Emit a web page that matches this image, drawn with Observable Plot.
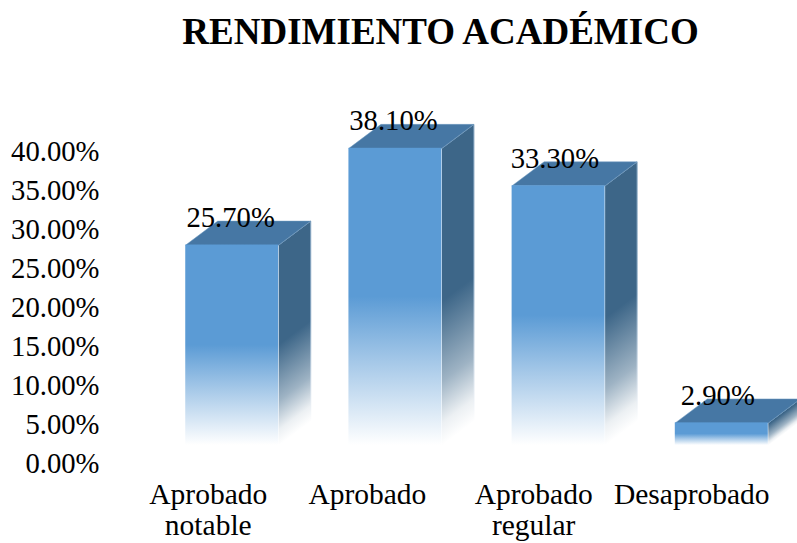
<!DOCTYPE html>
<html>
<head>
<meta charset="utf-8">
<script src="https://cdn.jsdelivr.net/npm/d3@7"></script>
<script src="https://cdn.jsdelivr.net/npm/@observablehq/plot@0.6"></script>
<style>
html,body{margin:0;padding:0;background:#fff;overflow:hidden}
#title{height:65px;box-sizing:border-box;padding-top:10px;text-align:center;font:bold 37px "Liberation Serif",serif;color:#000;white-space:nowrap;padding-left:84px}
svg{display:block}
</style>
</head>
<body>
<div id="title">RENDIMIENTO ACADÉMICO</div>
<script>
const categories = ["Aprobado notable", "Aprobado", "Aprobado regular", "Desaprobado"];
const categoryLabels = ["Aprobado\nnotable", "Aprobado", "Aprobado\nregular", "Desaprobado"];
const values = [25.7, 38.1, 33.3, 2.9];
const yTicks = [0, 5, 10, 15, 20, 25, 30, 35, 40];

// bar geometry, in scale units
const barWidth = 0.57, depthX = 0.196, depthY = 3.07;
const labelNudge = [-0.147, -0.172, -0.153, -0.184];
const valueNudge = [-0.01, -0.012, -0.023, -0.025];

const rows = values.map((v, i) => ({i, v, l: i - barWidth / 2, r: i + barWidth / 2}));
const sideFaces = rows.flatMap(d => [
  {i: d.i, x: d.r, y: 0},
  {i: d.i, x: d.r + depthX, y: depthY},
  {i: d.i, x: d.r + depthX, y: d.v + depthY},
  {i: d.i, x: d.r, y: d.v}
]);
const topFaces = rows.flatMap(d => [
  {i: d.i, x: d.l, y: d.v},
  {i: d.i, x: d.l + depthX, y: d.v + depthY},
  {i: d.i, x: d.r + depthX, y: d.v + depthY},
  {i: d.i, x: d.r, y: d.v}
]);

const ns = "http://www.w3.org/2000/svg";
// stops: [offset, share of white mixed into the colour]
function gradient(id, color, stops, x2 = 0, y2 = 1) {
  const g = document.createElementNS(ns, "linearGradient");
  g.setAttribute("id", id);
  g.setAttribute("x1", 0); g.setAttribute("y1", 0);
  g.setAttribute("x2", x2); g.setAttribute("y2", y2);
  const mix = d3.interpolateRgb(color, "#ffffff");
  stops.forEach(([o, w]) => {
    const s = document.createElementNS(ns, "stop");
    s.setAttribute("offset", o);
    s.setAttribute("stop-color", mix(w));
    g.appendChild(s);
  });
  return g;
}
const frontStops = [[0, 0], [0.5, 0], [0.72, 0.45], [1, 1]];
const sideStops = [[0, 0], [0.55, 0], [0.8, 0.5], [0.93, 0.9], [1, 1]];
const edgeStops = [[0, 0], [0.55, 0], [0.85, 0.6], [1, 1]];
const defs = () => {
  const d = document.createElementNS(ns, "defs");
  d.appendChild(gradient("frontFill", "#5b9bd5", frontStops));
  rows.forEach(r => {
    // the side face's fade follows its skew: bounding-box slope of the lower edge
    const s = depthY / (r.v + depthY);
    const k = 1 / (1 + s * s);
    d.appendChild(gradient(`sideFill${r.i}`, "#3d6688", sideStops, s * k, k));
    d.appendChild(gradient(`sideEdge${r.i}`, "#86a6c2", edgeStops, s * k, k));
  });
  return d;
};

const font = "Liberation Serif";
const chart = Plot.plot({
  width: 797,
  height: 478,
  marginLeft: 0, marginRight: 0, marginTop: 0, marginBottom: 0,
  x: {domain: [0, 3], range: [231.75, 721.3], axis: null},
  y: {domain: [0, 40], range: [380, 68], axis: null},
  style: {fontFamily: font, background: "#fff", color: "#000", overflow: "visible"},
  marks: [
    defs,
    rows.map(r => Plot.line(sideFaces.filter(d => d.i === r.i), {
      x: "x", y: "y", fill: `url(#sideFill${r.i})`, stroke: `url(#sideEdge${r.i})`, strokeWidth: 1
    })),
    Plot.line(topFaces, {x: "x", y: "y", z: "i", fill: "#4677a4", stroke: "#6f9ac0", strokeWidth: 0.5}),
    Plot.rectY(rows, {x1: "l", x2: "r", y1: 0, y2: "v", fill: "url(#frontFill)", inset: 0}),
    Plot.axisY({
      ticks: yTicks, tickSize: 0, anchor: "left", label: null,
      tickFormat: d => d.toFixed(2) + "%",
      fontSize: 28.7, fontFamily: font, fill: "#000", dy: 18.5,
      textAnchor: "end", frameAnchor: "left", dx: 108
    }),
    Plot.text(rows, {
      x: d => d.i + valueNudge[d.i], y: "v", text: d => d.v.toFixed(2) + "%",
      fontSize: 28.7, fontFamily: font, fill: "#000", lineAnchor: "bottom", dy: -18
    }),
    Plot.text(rows, {
      x: d => d.i + labelNudge[d.i], y: 0, text: d => categoryLabels[d.i],
      fontSize: 29.5, fontFamily: font, fill: "#000", lineAnchor: "top", lineHeight: 1.07, dy: 36
    })
  ]
});
document.body.appendChild(chart);
</script>
</body>
</html>
